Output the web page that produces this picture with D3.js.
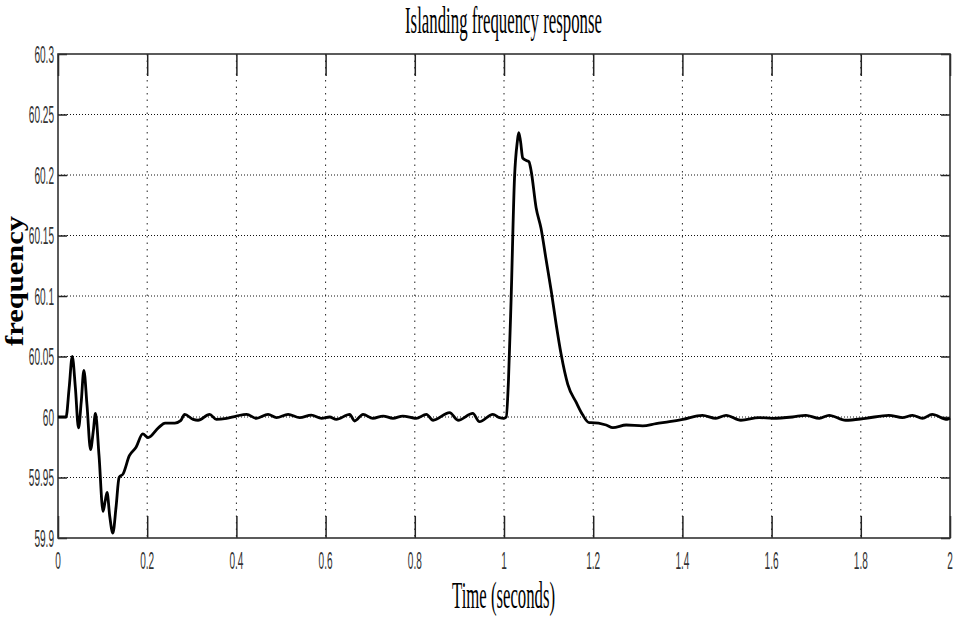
<!DOCTYPE html>
<html>
<head>
<meta charset="utf-8">
<script src="https://cdn.jsdelivr.net/npm/d3@7"></script>
<style>
  body { margin: 0; background: #fff; }
</style>
</head>
<body>
<div id="chart-area"></div>
<script>
// frequency trace
var times = [0, 0.018, 0.025, 0.032, 0.039, 0.046, 0.052, 0.058, 0.065, 0.073, 0.079, 0.084, 0.092,
	0.101, 0.106, 0.110, 0.116, 0.123, 0.130, 0.137, 0.146, 0.160, 0.175, 0.190, 0.202, 0.225, 0.240,
	0.262, 0.275, 0.284, 0.303, 0.314, 0.340, 0.355, 0.378, 0.400, 0.423, 0.445, 0.471, 0.490, 0.516,
	0.542, 0.568, 0.591, 0.609, 0.624, 0.654, 0.665, 0.684, 0.706, 0.729, 0.751, 0.773, 0.803, 0.826,
	0.841, 0.878, 0.897, 0.930, 0.945, 0.975, 0.990, 0.999, 1.005, 1.010, 1.016, 1.0235, 1.030, 1.033,
	1.037, 1.042, 1.050, 1.056, 1.061, 1.072, 1.083, 1.094, 1.106, 1.117, 1.128, 1.143, 1.162, 1.176,
	1.191, 1.195, 1.229, 1.244, 1.274, 1.311, 1.341, 1.371, 1.401, 1.445, 1.475, 1.498, 1.531, 1.572,
	1.602, 1.647, 1.677, 1.707, 1.729, 1.766, 1.811, 1.863, 1.893, 1.916, 1.938, 1.960, 1.994, 2.0];

var freqs = [60.0, 60.0, 60.024, 60.050, 60.024, 59.991, 60.012, 60.0385, 60.010, 59.973, 59.988, 60.003, 59.968,
	59.922, 59.931, 59.9376, 59.918, 59.904, 59.925, 59.950, 59.953, 59.968, 59.975, 59.986, 59.983, 59.991, 59.995,
	59.995, 59.997, 60.0022, 59.998, 59.9973, 60.0022, 59.998, 59.9989, 60.0008, 60.0022, 59.9989, 60.0022, 59.9995, 60.0022,
	59.9995, 60.0016, 59.9989, 60.0, 59.998, 60.0022, 59.9967, 60.0022, 59.9989, 60.0008, 59.9989, 60.0008, 59.9989, 60.0022,
	59.9973, 60.0036, 59.9973, 60.0030, 59.9961, 60.0022, 59.9995, 59.9989, 60.0, 60.030, 60.098, 60.197, 60.228, 60.235,
	60.228, 60.214, 60.212, 60.211, 60.203, 60.173, 60.156, 60.131, 60.104, 60.0765, 60.052, 60.027, 60.012, 60.002,
	59.9953, 59.9953, 59.9934, 59.9912, 59.9934, 59.9926, 59.9945, 59.9961, 59.998, 60.0014, 59.9989, 60.0014, 59.9973, 59.9995,
	59.9989, 60.0, 60.0014, 59.9989, 60.0014, 59.9973, 59.9989, 60.0014, 59.9995, 60.0014, 59.9989, 60.0022, 59.998, 59.999];

var xTicks = [0, 0.2, 0.4, 0.6, 0.8, 1, 1.2, 1.4, 1.6, 1.8, 2];
var yTicks = [59.9, 59.95, 60, 60.05, 60.1, 60.15, 60.2, 60.25, 60.3];
var xTickLabels = ["0", "0.2", "0.4", "0.6", "0.8", "1", "1.2", "1.4", "1.6", "1.8", "2"];
var yTickLabels = ["59.9", "59.95", "60", "60.05", "60.1", "60.15", "60.2", "60.25", "60.3"];

var width = 956,
	height = 617;

var margin = {top: 54, right: 6, bottom: 79, left: 58};
var w = width - margin.left - margin.right,
	h = height - margin.top - margin.bottom;

var svg = d3.select("#chart-area").append("svg")
	.attr("width", width)
	.attr("height", height)

var g = svg.append("g")
	.attr("transform", "translate(" + margin.left + "," + margin.top + ")")

var x = d3.scaleLinear().domain([0, 2]).range([0, w]);
var y = d3.scaleLinear().domain([59.9, 60.3]).range([h, 0]);

// dotted grid
g.selectAll(".vgrid")
	.data(xTicks.slice(1, -1))
	.enter()
	.append("line")
	.attr("class", "vgrid")
	.attr("x1", d => x(d)).attr("x2", d => x(d))
	.attr("y1", 0).attr("y2", h)
	.attr("stroke", "#222")
	.attr("stroke-width", 1)
	.attr("stroke-dasharray", "1.5,5")

g.selectAll(".hgrid")
	.data(yTicks.slice(1, -1))
	.enter()
	.append("line")
	.attr("class", "hgrid")
	.attr("x1", 0).attr("x2", w)
	.attr("y1", d => y(d)).attr("y2", d => y(d))
	.attr("stroke", "#111")
	.attr("stroke-width", 1)
	.attr("stroke-dasharray", "1,2")

// tick marks on all four sides, pointing inward
var tickAxes = [
	[d3.axisBottom(x).tickValues(xTicks).tickSize(-22), "translate(0," + h + ")"],
	[d3.axisTop(x).tickValues(xTicks).tickSize(-22), "translate(0,0)"],
	[d3.axisLeft(y).tickValues(yTicks).tickSize(-9), "translate(0,0)"],
	[d3.axisRight(y).tickValues(yTicks).tickSize(-9), "translate(" + w + ",0)"]
];
tickAxes.forEach(function(a) {
	var ag = g.append("g")
		.attr("transform", a[1])
		.call(a[0].tickFormat(""))
	ag.select(".domain").remove()
	ag.selectAll(".tick line").attr("stroke", "#222").attr("stroke-width", 1.5)
})

// frame
g.append("rect")
	.attr("x", 0).attr("y", 0)
	.attr("width", w).attr("height", h)
	.attr("fill", "none")
	.attr("stroke", "#333")
	.attr("stroke-width", 1.6)

// tick labels, narrow like the original
g.selectAll(".xlab")
	.data(xTicks)
	.enter()
	.append("text")
	.attr("class", "xlab")
	.attr("transform", (d, i) => "translate(" + x(d) + "," + (h + 31) + ") scale(0.42,1)")
	.attr("text-anchor", "middle")
	.attr("font-family", "Liberation Sans, Arial, sans-serif")
	.attr("font-size", 24)
	.attr("fill", "#333")
	.text((d, i) => xTickLabels[i])

g.selectAll(".ylab")
	.data(yTicks)
	.enter()
	.append("text")
	.attr("class", "ylab")
	.attr("transform", d => "translate(-4," + (y(d) + 8.5) + ") scale(0.42,1)")
	.attr("text-anchor", "end")
	.attr("font-family", "Liberation Sans, Arial, sans-serif")
	.attr("font-size", 24)
	.attr("fill", "#333")
	.text((d, i) => yTickLabels[i])

// the trace
var points = times.map((t, i) => [t, freqs[i]]);
var line = d3.line()
	.x(d => x(d[0]))
	.y(d => y(d[1]))
	.curve(d3.curveMonotoneX)

g.append("path")
	.datum(points)
	.attr("fill", "none")
	.attr("stroke", "#000")
	.attr("stroke-width", 2.8)
	.attr("stroke-linejoin", "round")
	.attr("d", line)

// titles
svg.append("text")
	.attr("x", 503.5).attr("y", 33)
	.attr("text-anchor", "middle")
	.attr("font-family", "Liberation Serif, Times New Roman, serif")
	.attr("font-size", 37)
	.attr("textLength", 197)
	.attr("lengthAdjust", "spacingAndGlyphs")
	.text("Islanding frequency response")

svg.append("text")
	.attr("x", 503.5).attr("y", 608)
	.attr("text-anchor", "middle")
	.attr("font-family", "Liberation Serif, Times New Roman, serif")
	.attr("font-size", 37)
	.attr("textLength", 103)
	.attr("lengthAdjust", "spacingAndGlyphs")
	.text("Time (seconds)")

svg.append("text")
	.attr("transform", "translate(23,281) rotate(-90)")
	.attr("text-anchor", "middle")
	.attr("font-family", "Liberation Serif, Times New Roman, serif")
	.attr("font-weight", "bold")
	.attr("font-size", 25)
	.attr("textLength", 130)
	.attr("lengthAdjust", "spacingAndGlyphs")
	.text("frequency")
</script>
</body>
</html>
